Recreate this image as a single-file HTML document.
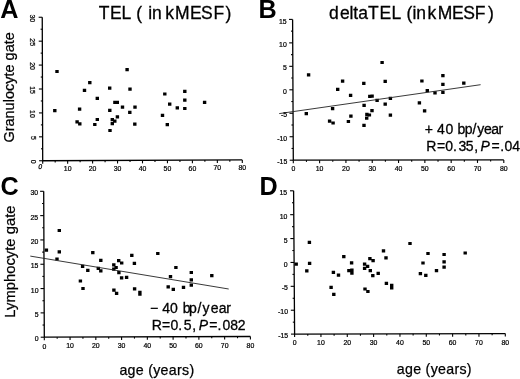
<!DOCTYPE html>
<html><head><meta charset="utf-8"><style>
html,body{margin:0;padding:0;background:#fff;}
body{width:520px;height:379px;overflow:hidden;}
svg{display:block;will-change:transform;font-family:"Liberation Sans", sans-serif;}
.ax{fill:none;stroke:#000;stroke-width:1.3;}
.tk{fill:none;stroke:#000;stroke-width:1.1;}
.rl{fill:none;stroke:#222;stroke-width:0.9;}
.tl{font-size:6.9px;fill:#000;stroke:#000;stroke-width:0.22px;}
.pl{font-size:25.2px;font-weight:bold;fill:#000;}
.tt{font-size:17.5px;fill:#000;stroke:#000;stroke-width:0.3px;}
.at{font-size:14.5px;fill:#000;stroke:#000;stroke-width:0.25px;}
.an{font-size:14px;fill:#000;stroke:#000;stroke-width:0.3px;}
</style></head><body>
<svg width="520" height="379" viewBox="0 0 520 379">
<path d="M42.25 17.25L42.7 160.75L242.3 159.95" class="ax"/>
<path d="M39.1 160.75H42.7" class="tk"/>
<path d="M40.96 148.79H42.66" class="tk"/>
<path d="M39.02 136.83H42.62" class="tk"/>
<path d="M40.89 124.88H42.59" class="tk"/>
<path d="M38.95 112.92H42.55" class="tk"/>
<path d="M40.81 100.96H42.51" class="tk"/>
<path d="M38.88 89H42.48" class="tk"/>
<path d="M40.74 77.04H42.44" class="tk"/>
<path d="M38.8 65.08H42.4" class="tk"/>
<path d="M40.66 53.12H42.36" class="tk"/>
<path d="M38.73 41.17H42.33" class="tk"/>
<path d="M40.59 29.21H42.29" class="tk"/>
<path d="M38.65 17.25H42.25" class="tk"/>
<path d="M42.7 160.75v3" class="tk"/>
<path d="M55.18 160.7v1.7" class="tk"/>
<path d="M67.65 160.65v3" class="tk"/>
<path d="M80.12 160.6v1.7" class="tk"/>
<path d="M92.6 160.55v3" class="tk"/>
<path d="M105.08 160.5v1.7" class="tk"/>
<path d="M117.55 160.45v3" class="tk"/>
<path d="M130.03 160.4v1.7" class="tk"/>
<path d="M142.5 160.35v3" class="tk"/>
<path d="M154.98 160.3v1.7" class="tk"/>
<path d="M167.45 160.25v3" class="tk"/>
<path d="M179.93 160.2v1.7" class="tk"/>
<path d="M192.4 160.15v3" class="tk"/>
<path d="M204.88 160.1v1.7" class="tk"/>
<path d="M217.35 160.05v3" class="tk"/>
<path d="M229.83 160v1.7" class="tk"/>
<path d="M242.3 159.95v3" class="tk"/>
<path d="M292.6 19.4L293.3 160.2L503.8 159.9" class="ax"/>
<path d="M289.7 160.2H293.3" class="tk"/>
<path d="M291.54 148.47H293.24" class="tk"/>
<path d="M289.58 136.73H293.18" class="tk"/>
<path d="M291.43 125H293.12" class="tk"/>
<path d="M289.47 113.27H293.07" class="tk"/>
<path d="M291.31 101.53H293.01" class="tk"/>
<path d="M289.35 89.8H292.95" class="tk"/>
<path d="M291.19 78.07H292.89" class="tk"/>
<path d="M289.23 66.33H292.83" class="tk"/>
<path d="M291.08 54.6H292.78" class="tk"/>
<path d="M289.12 42.87H292.72" class="tk"/>
<path d="M290.96 31.13H292.66" class="tk"/>
<path d="M289 19.4H292.6" class="tk"/>
<path d="M293.3 160.2v3" class="tk"/>
<path d="M306.46 160.18v1.7" class="tk"/>
<path d="M319.61 160.16v3" class="tk"/>
<path d="M332.77 160.14v1.7" class="tk"/>
<path d="M345.93 160.12v3" class="tk"/>
<path d="M359.08 160.11v1.7" class="tk"/>
<path d="M372.24 160.09v3" class="tk"/>
<path d="M385.39 160.07v1.7" class="tk"/>
<path d="M398.55 160.05v3" class="tk"/>
<path d="M411.71 160.03v1.7" class="tk"/>
<path d="M424.86 160.01v3" class="tk"/>
<path d="M438.02 159.99v1.7" class="tk"/>
<path d="M451.18 159.97v3" class="tk"/>
<path d="M464.33 159.96v1.7" class="tk"/>
<path d="M477.49 159.94v3" class="tk"/>
<path d="M490.64 159.92v1.7" class="tk"/>
<path d="M503.8 159.9v3" class="tk"/>
<path d="M43.7 191.3L44.3 337.2L250.4 336.5" class="ax"/>
<path d="M40.7 337.2H44.3" class="tk"/>
<path d="M42.55 325.04H44.25" class="tk"/>
<path d="M40.6 312.88H44.2" class="tk"/>
<path d="M42.45 300.73H44.15" class="tk"/>
<path d="M40.5 288.57H44.1" class="tk"/>
<path d="M42.35 276.41H44.05" class="tk"/>
<path d="M40.4 264.25H44" class="tk"/>
<path d="M42.25 252.09H43.95" class="tk"/>
<path d="M40.3 239.93H43.9" class="tk"/>
<path d="M42.15 227.78H43.85" class="tk"/>
<path d="M40.2 215.62H43.8" class="tk"/>
<path d="M42.05 203.46H43.75" class="tk"/>
<path d="M40.1 191.3H43.7" class="tk"/>
<path d="M44.3 337.2v3" class="tk"/>
<path d="M57.18 337.16v1.7" class="tk"/>
<path d="M70.06 337.11v3" class="tk"/>
<path d="M82.94 337.07v1.7" class="tk"/>
<path d="M95.83 337.02v3" class="tk"/>
<path d="M108.71 336.98v1.7" class="tk"/>
<path d="M121.59 336.94v3" class="tk"/>
<path d="M134.47 336.89v1.7" class="tk"/>
<path d="M147.35 336.85v3" class="tk"/>
<path d="M160.23 336.81v1.7" class="tk"/>
<path d="M173.11 336.76v3" class="tk"/>
<path d="M185.99 336.72v1.7" class="tk"/>
<path d="M198.88 336.68v3" class="tk"/>
<path d="M211.76 336.63v1.7" class="tk"/>
<path d="M224.64 336.59v3" class="tk"/>
<path d="M237.52 336.54v1.7" class="tk"/>
<path d="M250.4 336.5v3" class="tk"/>
<path d="M293.6 190.8L294.6 334.1L505.3 333.6" class="ax"/>
<path d="M291 334.1H294.6" class="tk"/>
<path d="M292.82 322.16H294.52" class="tk"/>
<path d="M290.83 310.22H294.43" class="tk"/>
<path d="M292.65 298.28H294.35" class="tk"/>
<path d="M290.67 286.33H294.27" class="tk"/>
<path d="M292.48 274.39H294.18" class="tk"/>
<path d="M290.5 262.45H294.1" class="tk"/>
<path d="M292.32 250.51H294.02" class="tk"/>
<path d="M290.33 238.57H293.93" class="tk"/>
<path d="M292.15 226.62H293.85" class="tk"/>
<path d="M290.17 214.68H293.77" class="tk"/>
<path d="M291.98 202.74H293.68" class="tk"/>
<path d="M290 190.8H293.6" class="tk"/>
<path d="M294.6 334.1v3" class="tk"/>
<path d="M307.77 334.07v1.7" class="tk"/>
<path d="M320.94 334.04v3" class="tk"/>
<path d="M334.11 334.01v1.7" class="tk"/>
<path d="M347.28 333.98v3" class="tk"/>
<path d="M360.44 333.94v1.7" class="tk"/>
<path d="M373.61 333.91v3" class="tk"/>
<path d="M386.78 333.88v1.7" class="tk"/>
<path d="M399.95 333.85v3" class="tk"/>
<path d="M413.12 333.82v1.7" class="tk"/>
<path d="M426.29 333.79v3" class="tk"/>
<path d="M439.46 333.76v1.7" class="tk"/>
<path d="M452.62 333.73v3" class="tk"/>
<path d="M465.79 333.69v1.7" class="tk"/>
<path d="M478.96 333.66v3" class="tk"/>
<path d="M492.13 333.63v1.7" class="tk"/>
<path d="M505.3 333.6v3" class="tk"/>
<path d="M55.3 69.9h3.4v3.2h-3.4zM125.4 68h3.4v3.2h-3.4zM88.1 81h3.4v3.2h-3.4zM82.8 88.7h3.4v3.2h-3.4zM108 86.6h3.4v3.2h-3.4zM128.3 87.6h3.4v3.2h-3.4zM95.6 96.7h3.4v3.2h-3.4zM113.2 100.7h3.4v3.2h-3.4zM115.6 100.7h3.4v3.2h-3.4zM53.1 109h3.4v3.2h-3.4zM77.9 107.5h3.4v3.2h-3.4zM120.8 105.5h3.4v3.2h-3.4zM133.3 105.5h3.4v3.2h-3.4zM108.1 108.7h3.4v3.2h-3.4zM128.1 110.8h3.4v3.2h-3.4zM115.7 115.3h3.4v3.2h-3.4zM95.6 117.9h3.4v3.2h-3.4zM110.6 118.1h3.4v3.2h-3.4zM113.1 119.5h3.4v3.2h-3.4zM75.4 120.2h3.4v3.2h-3.4zM78.1 122.2h3.4v3.2h-3.4zM93.1 122.9h3.4v3.2h-3.4zM110.6 122.1h3.4v3.2h-3.4zM133.1 122.5h3.4v3.2h-3.4zM108.3 128.9h3.4v3.2h-3.4zM163.1 92.4h3.4v3.2h-3.4zM183.1 89.8h3.4v3.2h-3.4zM183.1 98.6h3.4v3.2h-3.4zM202.9 100.7h3.4v3.2h-3.4zM168 102.6h3.4v3.2h-3.4zM175.6 106.3h3.4v3.2h-3.4zM183.1 106.9h3.4v3.2h-3.4zM160.8 113.8h3.4v3.2h-3.4zM165.6 123.1h3.4v3.2h-3.4zM306.9 73.2h3.4v3.2h-3.4zM340.9 79.6h3.4v3.2h-3.4zM336 87.7h3.4v3.2h-3.4zM348.9 93.7h3.4v3.2h-3.4zM304.6 112.1h3.4v3.2h-3.4zM330.9 107h3.4v3.2h-3.4zM327.9 119.6h3.4v3.2h-3.4zM331.4 121.4h3.4v3.2h-3.4zM346.7 119.9h3.4v3.2h-3.4zM349.2 114.6h3.4v3.2h-3.4zM380.4 60.9h3.4v3.2h-3.4zM362.1 81.7h3.4v3.2h-3.4zM383.5 79.7h3.4v3.2h-3.4zM368.1 94.8h3.4v3.2h-3.4zM370.4 94.6h3.4v3.2h-3.4zM375.4 98.8h3.4v3.2h-3.4zM388.7 96.8h3.4v3.2h-3.4zM362.4 103.8h3.4v3.2h-3.4zM383.5 102.6h3.4v3.2h-3.4zM370.3 109h3.4v3.2h-3.4zM365.2 112.7h3.4v3.2h-3.4zM367.7 113.4h3.4v3.2h-3.4zM365 116.5h3.4v3.2h-3.4zM388.7 113.6h3.4v3.2h-3.4zM362.3 123.7h3.4v3.2h-3.4zM420.2 79.4h3.4v3.2h-3.4zM441.2 74h3.4v3.2h-3.4zM441.2 82.8h3.4v3.2h-3.4zM425.6 89h3.4v3.2h-3.4zM433.3 91.2h3.4v3.2h-3.4zM441.2 90.7h3.4v3.2h-3.4zM462.1 81.5h3.4v3.2h-3.4zM417.7 101.2h3.4v3.2h-3.4zM422.9 109.3h3.4v3.2h-3.4zM57.6 228.9h3.4v3.2h-3.4zM44.7 248.6h3.4v3.2h-3.4zM57.6 250.2h3.4v3.2h-3.4zM55.3 257.4h3.4v3.2h-3.4zM91.1 251.1h3.4v3.2h-3.4zM99.1 258.8h3.4v3.2h-3.4zM80.9 264.7h3.4v3.2h-3.4zM86.1 268.8h3.4v3.2h-3.4zM78.7 279.4h3.4v3.2h-3.4zM81.3 286.9h3.4v3.2h-3.4zM96.6 266.7h3.4v3.2h-3.4zM99.1 269.2h3.4v3.2h-3.4zM112.1 263.3h3.4v3.2h-3.4zM114.4 265.9h3.4v3.2h-3.4zM112.1 267.6h3.4v3.2h-3.4zM117 259h3.4v3.2h-3.4zM120 261.4h3.4v3.2h-3.4zM117.2 271h3.4v3.2h-3.4zM119.9 276.3h3.4v3.2h-3.4zM124.9 275.8h3.4v3.2h-3.4zM130.1 253.8h3.4v3.2h-3.4zM132.7 261.7h3.4v3.2h-3.4zM156.1 251.9h3.4v3.2h-3.4zM174.2 265.9h3.4v3.2h-3.4zM168.8 275h3.4v3.2h-3.4zM189.6 270.9h3.4v3.2h-3.4zM189.6 278.2h3.4v3.2h-3.4zM189.6 283.6h3.4v3.2h-3.4zM166.5 285.2h3.4v3.2h-3.4zM171.6 287.8h3.4v3.2h-3.4zM181.8 285.7h3.4v3.2h-3.4zM210.1 274h3.4v3.2h-3.4zM112.2 288.6h3.4v3.2h-3.4zM114.9 291.7h3.4v3.2h-3.4zM132.9 287.3h3.4v3.2h-3.4zM138.2 290.8h3.4v3.2h-3.4zM138.2 292.6h3.4v3.2h-3.4zM294.5 262.6h3.4v3.2h-3.4zM307.7 240.7h3.4v3.2h-3.4zM307.9 261.8h3.4v3.2h-3.4zM305.1 269.2h3.4v3.2h-3.4zM329.4 285.8h3.4v3.2h-3.4zM332.1 292.7h3.4v3.2h-3.4zM331.7 270.7h3.4v3.2h-3.4zM336.8 273.5h3.4v3.2h-3.4zM342.1 255.1h3.4v3.2h-3.4zM349.9 261.2h3.4v3.2h-3.4zM347.2 269h3.4v3.2h-3.4zM350.2 268.6h3.4v3.2h-3.4zM350.2 271.5h3.4v3.2h-3.4zM362.9 262.6h3.4v3.2h-3.4zM365.9 264.7h3.4v3.2h-3.4zM362.9 266.8h3.4v3.2h-3.4zM368.2 257h3.4v3.2h-3.4zM371.4 259h3.4v3.2h-3.4zM368.6 269.1h3.4v3.2h-3.4zM371.1 274h3.4v3.2h-3.4zM376.5 271.8h3.4v3.2h-3.4zM381.8 249.3h3.4v3.2h-3.4zM384.3 256.3h3.4v3.2h-3.4zM384.7 281.7h3.4v3.2h-3.4zM390 283.8h3.4v3.2h-3.4zM390 286.3h3.4v3.2h-3.4zM363.3 287.4h3.4v3.2h-3.4zM366.2 289.9h3.4v3.2h-3.4zM408.3 241.9h3.4v3.2h-3.4zM426.3 251.9h3.4v3.2h-3.4zM442.4 252.9h3.4v3.2h-3.4zM442.4 260.2h3.4v3.2h-3.4zM442.4 265.6h3.4v3.2h-3.4zM421.3 261.4h3.4v3.2h-3.4zM418.7 272.1h3.4v3.2h-3.4zM424.1 273.7h3.4v3.2h-3.4zM434.8 269h3.4v3.2h-3.4zM463.5 251.4h3.4v3.2h-3.4z" fill="#000"/>
<path d="M279.2 113.6L480.6 84.7" class="rl"/>
<path d="M30.3 256.1L228.7 289.0" class="rl"/>
<text class="tl" transform="translate(33.1 161.75) rotate(90)" text-anchor="middle" y="2.45">0</text>
<text class="tl" transform="translate(33.02 137.83) rotate(90)" text-anchor="middle" y="2.45">5</text>
<text class="tl" transform="translate(32.95 113.92) rotate(90)" text-anchor="middle" y="2.45">10</text>
<text class="tl" transform="translate(32.88 90) rotate(90)" text-anchor="middle" y="2.45">15</text>
<text class="tl" transform="translate(32.8 66.08) rotate(90)" text-anchor="middle" y="2.45">20</text>
<text class="tl" transform="translate(32.73 42.17) rotate(90)" text-anchor="middle" y="2.45">25</text>
<text class="tl" transform="translate(32.65 18.25) rotate(90)" text-anchor="middle" y="2.45">30</text>
<text class="tl" transform="translate(39.9 169.35) skewX(-10)" text-anchor="middle">0</text>
<text class="tl" x="67.65" y="171.05" text-anchor="middle">10</text>
<text class="tl" x="92.6" y="170.95" text-anchor="middle">20</text>
<text class="tl" x="117.55" y="170.85" text-anchor="middle">30</text>
<text class="tl" x="142.5" y="170.75" text-anchor="middle">40</text>
<text class="tl" x="167.45" y="170.65" text-anchor="middle">50</text>
<text class="tl" x="192.4" y="170.55" text-anchor="middle">60</text>
<text class="tl" x="217.35" y="170.45" text-anchor="middle">70</text>
<text class="tl" x="242.3" y="170.35" text-anchor="middle">80</text>
<text class="tl" x="287.3" y="164.35" text-anchor="end">-15</text>
<text class="tl" x="287.18" y="140.88" text-anchor="end">-10</text>
<text class="tl" x="287.07" y="117.42" text-anchor="end">-5</text>
<text class="tl" x="286.95" y="93.95" text-anchor="end">0</text>
<text class="tl" x="286.83" y="70.48" text-anchor="end">5</text>
<text class="tl" x="286.72" y="47.02" text-anchor="end">10</text>
<text class="tl" x="286.6" y="23.55" text-anchor="end">15</text>
<text class="tl" x="293.3" y="171.4" text-anchor="middle">0</text>
<text class="tl" x="319.61" y="171.36" text-anchor="middle">10</text>
<text class="tl" x="345.93" y="171.32" text-anchor="middle">20</text>
<text class="tl" x="372.24" y="171.29" text-anchor="middle">30</text>
<text class="tl" x="398.55" y="171.25" text-anchor="middle">40</text>
<text class="tl" x="424.86" y="171.21" text-anchor="middle">50</text>
<text class="tl" x="451.18" y="171.17" text-anchor="middle">60</text>
<text class="tl" x="477.49" y="171.14" text-anchor="middle">70</text>
<text class="tl" x="503.8" y="171.1" text-anchor="middle">80</text>
<text class="tl" x="38.7" y="341.35" text-anchor="end">0</text>
<text class="tl" x="38.6" y="317.03" text-anchor="end">5</text>
<text class="tl" x="38.5" y="292.72" text-anchor="end">10</text>
<text class="tl" x="38.4" y="268.4" text-anchor="end">15</text>
<text class="tl" x="38.3" y="244.08" text-anchor="end">20</text>
<text class="tl" x="38.2" y="219.77" text-anchor="end">25</text>
<text class="tl" x="38.1" y="195.45" text-anchor="end">30</text>
<text class="tl" x="44.3" y="348.5" text-anchor="middle">0</text>
<text class="tl" x="70.06" y="348.41" text-anchor="middle">10</text>
<text class="tl" x="95.83" y="348.32" text-anchor="middle">20</text>
<text class="tl" x="121.59" y="348.24" text-anchor="middle">30</text>
<text class="tl" x="147.35" y="348.15" text-anchor="middle">40</text>
<text class="tl" x="173.11" y="348.06" text-anchor="middle">50</text>
<text class="tl" x="198.88" y="347.98" text-anchor="middle">60</text>
<text class="tl" x="224.64" y="347.89" text-anchor="middle">70</text>
<text class="tl" x="250.4" y="347.8" text-anchor="middle">80</text>
<text class="tl" x="288.2" y="338.25" text-anchor="end">-15</text>
<text class="tl" x="288.03" y="314.37" text-anchor="end">-10</text>
<text class="tl" x="287.87" y="290.48" text-anchor="end">-5</text>
<text class="tl" x="287.7" y="266.6" text-anchor="end">0</text>
<text class="tl" x="287.53" y="242.72" text-anchor="end">5</text>
<text class="tl" x="287.37" y="218.83" text-anchor="end">10</text>
<text class="tl" x="287.2" y="194.95" text-anchor="end">15</text>
<text class="tl" x="294.6" y="345.1" text-anchor="middle">0</text>
<text class="tl" x="320.94" y="345.04" text-anchor="middle">10</text>
<text class="tl" x="347.28" y="344.98" text-anchor="middle">20</text>
<text class="tl" x="373.61" y="344.91" text-anchor="middle">30</text>
<text class="tl" x="399.95" y="344.85" text-anchor="middle">40</text>
<text class="tl" x="426.29" y="344.79" text-anchor="middle">50</text>
<text class="tl" x="452.62" y="344.73" text-anchor="middle">60</text>
<text class="tl" x="478.96" y="344.66" text-anchor="middle">70</text>
<text class="tl" x="505.3" y="344.6" text-anchor="middle">80</text>
<text class="pl" x="0.3" y="18.4">A</text>
<text class="pl" x="258.6" y="18.2">B</text>
<text class="pl" x="0.6" y="195.4">C</text>
<text class="pl" x="259.5" y="195.3">D</text>
<text class="tt" x="98.76 110.01 121.61 131.34 136.26 142.09 148.18 151.89 161.62 165.27 175.11 189.91 200.96 213.41 225.55" y="19.4"  xml:space="preserve">TEL ( in kMESF)</text>
<text class="tt" x="329.02 340.11 349.57 353.29 358.31 367.96 379.61 391.51 401.24 406.46 412.58 416.29 426.02 427.57 437.71 452.11 463.26 474.81 488.05" y="18.8"  xml:space="preserve">deltaTEL (in kMESF)</text>
<text class="at" transform="translate(14.4 87.4) rotate(-90)" text-anchor="middle">Granulocyte gate</text>
<text class="at" transform="translate(14.8 261.6) rotate(-90)" text-anchor="middle" style="font-size:14.8px">Lymphocyte gate</text>
<text class="at" x="119.4" y="374.5" style="font-size:14.2px;letter-spacing:0.3px">age (years)</text>
<text class="at" x="396.8" y="373.5" style="font-size:14.2px;letter-spacing:0.3px">age (years)</text>
<text class="an" x="424.77 432.95 437.03 445.4 453.19 457.45 464.65 472.45 477.22 484.06 491.16 498.62" y="133.5"  xml:space="preserve">+ 40 bp/year</text>
<text class="an" y="151.2"  xml:space="preserve"><tspan x="426.3">R</tspan><tspan x="437.07">=</tspan><tspan x="445.3">0</tspan><tspan x="452.97">.</tspan><tspan x="458.42">3</tspan><tspan x="465.79">5</tspan><tspan x="474.19">,</tspan><tspan x="478.08"> </tspan><tspan x="480.52" font-style="italic">P</tspan><tspan x="491.47">=</tspan><tspan x="500.27">.</tspan><tspan x="504.6">0</tspan><tspan x="512.13">4</tspan></text>
<text class="an" x="150.06 158.24 162.33 170.1 177.89 182.65 188.95 197.55 202.52 210.86 218.86 226.22" y="313.0"  xml:space="preserve">− 40 bp/year</text>
<text class="an" y="330.2"  xml:space="preserve"><tspan x="151.8">R</tspan><tspan x="162.07">=</tspan><tspan x="170.4">0</tspan><tspan x="178.27">.</tspan><tspan x="183.79">5</tspan><tspan x="192.19">,</tspan><tspan x="196.08"> </tspan><tspan x="198.72" font-style="italic">P</tspan><tspan x="209.37">=</tspan><tspan x="217.47">.</tspan><tspan x="222.4">0</tspan><tspan x="230.14">8</tspan><tspan x="237.85">2</tspan></text>
</svg>
</body></html>
